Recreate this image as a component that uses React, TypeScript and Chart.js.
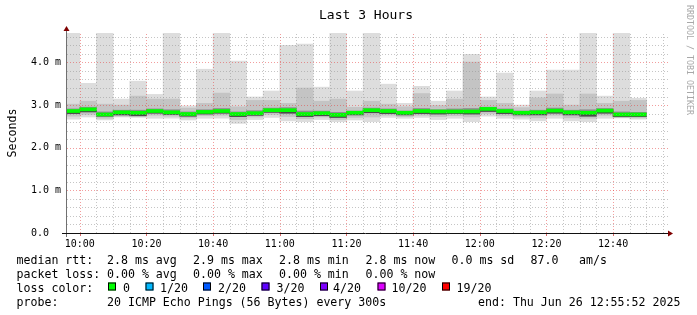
import React, { useEffect, useRef } from "react";
import { Chart, registerables } from "chart.js";

Chart.register(...registerables);

// ---- data (ms) ----
const intervalStarts = [
  "09:55", "10:00", "10:05", "10:10", "10:15", "10:20", "10:25", "10:30", "10:35", "10:40",
  "10:45", "10:50", "10:55", "11:00", "11:05", "11:10", "11:15", "11:20", "11:25", "11:30",
  "11:35", "11:40", "11:45", "11:50", "11:55", "12:00", "12:05", "12:10", "12:15", "12:20",
  "12:25", "12:30", "12:35", "12:40", "12:45",
];
const rttMin = [2.67, 2.72, 2.65, 2.72, 2.71, 2.69, 2.69, 2.65, 2.69, 2.69, 2.57, 2.66, 2.71, 2.63, 2.61, 2.66, 2.61, 2.65, 2.61, 2.71, 2.69, 2.71, 2.66, 2.69, 2.61, 2.74, 2.69, 2.67, 2.63, 2.69, 2.63, 2.61, 2.69, 2.71, 2.67];
const rttLow = [2.74, 2.78, 2.69, 2.74, 2.73, 2.76, 2.74, 2.70, 2.75, 2.76, 2.66, 2.72, 2.78, 2.73, 2.68, 2.72, 2.66, 2.71, 2.72, 2.76, 2.73, 2.76, 2.73, 2.75, 2.72, 2.80, 2.75, 2.72, 2.70, 2.76, 2.70, 2.69, 2.76, 2.70, 2.70];
const rttQ1 = [2.80, 2.84, 2.74, 2.77, 2.75, 2.81, 2.78, 2.74, 2.79, 2.81, 2.73, 2.76, 2.83, 2.81, 2.73, 2.75, 2.71, 2.77, 2.82, 2.80, 2.77, 2.80, 2.79, 2.80, 2.79, 2.85, 2.80, 2.77, 2.77, 2.81, 2.77, 2.74, 2.81, 2.73, 2.73];
const rttMedian = [2.86, 2.90, 2.78, 2.83, 2.82, 2.86, 2.83, 2.79, 2.84, 2.86, 2.79, 2.81, 2.88, 2.88, 2.79, 2.81, 2.77, 2.82, 2.88, 2.86, 2.82, 2.86, 2.85, 2.85, 2.85, 2.91, 2.86, 2.82, 2.83, 2.87, 2.83, 2.82, 2.87, 2.78, 2.78];
const rttQ3 = [2.91, 2.95, 2.84, 2.88, 2.88, 2.91, 2.89, 2.84, 2.89, 2.92, 2.84, 2.87, 2.93, 2.94, 2.86, 2.86, 2.83, 2.86, 2.93, 2.91, 2.86, 2.92, 2.89, 2.91, 2.92, 2.95, 2.91, 2.86, 2.88, 2.93, 2.88, 2.89, 2.92, 2.84, 2.83];
const rttUpper = [3.02, 3.09, 3.02, 3.00, 3.21, 3.14, 3.14, 2.93, 3.04, 3.28, 2.96, 3.11, 3.11, 3.04, 3.40, 3.09, 3.14, 2.95, 3.09, 3.02, 2.96, 3.27, 2.99, 3.14, 4.01, 3.11, 3.04, 2.94, 3.17, 3.26, 3.00, 3.26, 3.04, 3.09, 3.11];
const rttMax = [4.9, 3.51, 4.9, 3.14, 3.56, 3.25, 4.9, 2.98, 3.84, 4.9, 4.03, 3.19, 3.33, 4.40, 4.43, 3.42, 4.9, 3.33, 4.9, 3.49, 3.04, 3.44, 3.09, 3.33, 4.19, 3.19, 3.75, 3.00, 3.33, 3.82, 3.82, 4.9, 3.21, 4.9, 3.16];

const xTickLabels = ["10:00", "10:20", "10:40", "11:00", "11:20", "11:40", "12:00", "12:20", "12:40"];
const yTickValues = [0, 1, 2, 3, 4];
const yTickLabels = ["0.0  ", "1.0 m", "2.0 m", "3.0 m", "4.0 m"];
const startTime = "09:55:52";
const endTime = "12:55:52";
const stepMinutes = 5;
const yMax = 4.69;

const lossLabels = ["0", "1/20", "2/20", "3/20", "4/20", "10/20", "19/20"];
const lossColors = ["#00ff00", "#00b8ff", "#0059ff", "#5e00ff", "#7e00ff", "#dd00ff", "#ff0000"];
const rttStats = ["2.8 ms avg", "2.9 ms max", "2.8 ms min", "2.8 ms now", "0.0 ms sd", "87.0", "am/s"];
const lossStats = ["0.00 % avg", "0.00 % max", "0.00 % min", "0.00 % now"];
const probeText = "20 ICMP Echo Pings (56 Bytes) every 300s";
const endText = "end: Thu Jun 26 12:55:52 2025";
const titleText = "Last 3 Hours";

const MONO = "'DejaVu Sans Mono', monospace";

const toMin = (s: string) => {
  const [h, m, sec = "0"] = s.split(":");
  return Number(h) * 60 + Number(m) + Number(sec) / 60;
};

const medianHalf = 0.035;

function floating(lo: number[], hi: number[], color: string, label: string) {
  return {
    type: "bar" as const,
    label,
    data: intervalStarts.map((t, i) => ({ x: toMin(t) + stepMinutes / 2, y: [lo[i], hi[i]] })),
    backgroundColor: color,
    borderWidth: 0,
    grouped: false,
    barPercentage: 1,
    categoryPercentage: 1,
    clip: 0,
  };
}

const decor = {
  id: "decor",
  beforeDraw(chart: any) {
    const ctx = chart.ctx;
    ctx.save();
    ctx.fillStyle = "#ffffff";
    ctx.fillRect(0, 0, chart.width, chart.height);
    ctx.restore();
  },
  afterDatasetsDraw(chart: any) {
    const ctx: CanvasRenderingContext2D = chart.ctx;
    const { left, right, top, bottom } = chart.chartArea;
    const xs = chart.scales.x;
    const ys = chart.scales.y;
    const line = (x1: number, y1: number, x2: number, y2: number) => {
      ctx.beginPath();
      ctx.moveTo(x1, y1);
      ctx.lineTo(x2, y2);
      ctx.stroke();
    };
    ctx.save();
    ctx.lineWidth = 1;
    ctx.setLineDash([1, 2]);
    const minorColor = "rgba(150,150,150,0.55)";
    const majorColor = "rgba(230,60,60,0.5)";
    // horizontal grid
    for (let k = 1; k * 0.2 < yMax; k++) {
      const v = k * 0.2;
      const y = Math.round(ys.getPixelForValue(v)) + 0.5;
      ctx.strokeStyle = k % 5 === 0 ? majorColor : minorColor;
      line(left + 1, y, right + 2, y);
    }
    // vertical grid
    const t0 = Math.ceil(xs.min / stepMinutes) * stepMinutes;
    for (let t = t0; t <= xs.max; t += stepMinutes) {
      const x = Math.round(xs.getPixelForValue(t)) + 0.5;
      ctx.strokeStyle = t % 20 === 0 ? majorColor : minorColor;
      line(x, bottom, x, top);
    }
    ctx.setLineDash([]);
    // major ticks under axis
    ctx.strokeStyle = "rgba(200,40,40,0.7)";
    for (let t = t0; t <= xs.max; t += stepMinutes) {
      if (t % 20 !== 0) continue;
      const x = Math.round(xs.getPixelForValue(t)) + 0.5;
      line(x, bottom + 1, x, bottom + 3);
    }
    // axes
    ctx.strokeStyle = "#707070";
    line(left + 0.5, bottom + 4, left + 0.5, top - 2);
    ctx.strokeStyle = "#111111";
    line(left - 4, bottom + 0.5, right + 3, bottom + 0.5);
    // arrows
    ctx.fillStyle = "#7f0000";
    ctx.beginPath();
    ctx.moveTo(left + 0.5 - 3, top - 2);
    ctx.lineTo(left + 0.5 + 3, top - 2);
    ctx.lineTo(left + 0.5, top - 7);
    ctx.closePath();
    ctx.fill();
    ctx.beginPath();
    ctx.moveTo(right + 2, bottom + 0.5 - 3);
    ctx.lineTo(right + 2, bottom + 0.5 + 3);
    ctx.lineTo(right + 7, bottom + 0.5);
    ctx.closePath();
    ctx.fill();
    ctx.restore();
  },
  afterDraw(chart: any) {
    const ctx: CanvasRenderingContext2D = chart.ctx;
    const { left, right, top, bottom } = chart.chartArea;
    ctx.save();
    ctx.fillStyle = "#000";
    ctx.textBaseline = "alphabetic";
    // title
    ctx.font = `13px ${MONO}`;
    ctx.textAlign = "center";
    ctx.fillText(titleText, (left + right) / 2, 18.5);
    // y title
    ctx.font = `11.6px ${MONO}`;
    ctx.save();
    ctx.translate(15.5, (top + bottom) / 2);
    ctx.rotate(-Math.PI / 2);
    ctx.textAlign = "center";
    ctx.fillText("Seconds", 0, 0);
    ctx.restore();
    // watermark
    ctx.save();
    ctx.fillStyle = "#a8a8a8";
    ctx.font = `8.3px ${MONO}`;
    ctx.translate(686.5, 5);
    ctx.rotate(Math.PI / 2);
    ctx.textAlign = "left";
    ctx.fillText("RRDTOOL / TOBI OETIKER", 0, 0);
    ctx.restore();
    // legend
    ctx.font = `11.6px ${MONO}`;
    ctx.textAlign = "left";
    const colX = [107, 193, 279, 365.5, 451.5];
    const b1 = 263.5, b2 = 277.5, b3 = 291.5, b4 = 305.5;
    ctx.fillText("median rtt:", 16.5, b1);
    rttStats.slice(0, 5).forEach((s, i) => ctx.fillText(s, colX[i], b1));
    ctx.fillText(rttStats[5], 530.5, b1);
    ctx.fillText(rttStats[6], 579, b1);
    ctx.fillText("packet loss:", 16.5, b2);
    lossStats.forEach((s, i) => ctx.fillText(s, colX[i], b2));
    ctx.fillText("loss color:", 16.5, b3);
    const boxX = [108, 145.5, 203, 261.5, 320, 377.5, 442];
    const txtX = [123, 160, 218, 276.5, 333, 391.5, 456.5];
    lossLabels.forEach((l, i) => {
      ctx.fillStyle = lossColors[i];
      ctx.fillRect(boxX[i], 282.5, 8, 8);
      ctx.strokeStyle = "#000";
      ctx.lineWidth = 1;
      ctx.strokeRect(boxX[i] + 0.5, 282.5 + 0.5, 7, 7);
      ctx.fillStyle = "#000";
      ctx.fillText(l, txtX[i], b3);
    });
    ctx.fillText("probe:", 16.5, b4);
    ctx.fillText(probeText, 107, b4);
    ctx.fillText(endText, 478, b4);
    ctx.restore();
  },
};

export default function App() {
  const ref = useRef<HTMLCanvasElement>(null);
  useEffect(() => {
    if (!ref.current) return;
    const medLo = rttMedian.map((m) => m - medianHalf);
    const medHi = rttMedian.map((m) => m + medianHalf);
    const chart = new Chart(ref.current, {
      type: "bar",
      data: {
        datasets: [
          floating(medLo, medHi, "#00ff00", "median") as any,
          floating(rttQ1, rttMedian, "#4a4a4a", "core") as any,
          floating(rttQ1, rttQ3, "#8e8e8e", "inner") as any,
          floating(rttLow, rttUpper, "#c4c4c4", "mid") as any,
          floating(rttMin, rttMax, "#dddddd", "smoke") as any,
        ],
      },
      options: {
        responsive: false,
        devicePixelRatio: 1,
        animation: false,
        events: [],
        layout: { padding: { top: 33, right: 31, left: 0, bottom: 0 } },
        plugins: { legend: { display: false }, tooltip: { enabled: false }, title: { display: false } },
        scales: {
          x: {
            type: "linear",
            min: toMin(startTime),
            max: toMin(endTime),
            offset: false,
            bounds: "data",
            grid: { display: false, drawTicks: false },
            border: { display: false },
            afterBuildTicks: (s: any) => {
              s.ticks = xTickLabels.map((l) => ({ value: toMin(l) }));
            },
            afterFit: (s: any) => {
              s.height = 82;
            },
            ticks: {
              padding: 5,
              autoSkip: false,
              maxRotation: 0,
              minRotation: 0,
              color: "#000",
              font: { family: MONO, size: 10, lineHeight: 1.2 },
              callback: (_v: any, i: number) => xTickLabels[i],
            },
          },
          y: {
            type: "linear",
            min: 0,
            max: yMax,
            bounds: "data",
            grid: { display: false, drawTicks: false },
            border: { display: false },
            afterBuildTicks: (s: any) => {
              s.ticks = yTickValues.map((v) => ({ value: v }));
            },
            afterFit: (s: any) => {
              s.width = 66;
            },
            ticks: {
              padding: 5,
              autoSkip: false,
              color: "#000",
              font: { family: MONO, size: 10, lineHeight: 1.2 },
              callback: (_v: any, i: number) => yTickLabels[i],
            },
          },
        },
      } as any,
      plugins: [decor],
    });
    return () => chart.destroy();
  }, []);
  return (
    <div style={{ position: "fixed", left: 0, top: 0, width: 697, height: 315, background: "#fff" }}>
      <canvas ref={ref} width={697} height={315} style={{ display: "block", width: 697, height: 315 }} />
    </div>
  );
}
